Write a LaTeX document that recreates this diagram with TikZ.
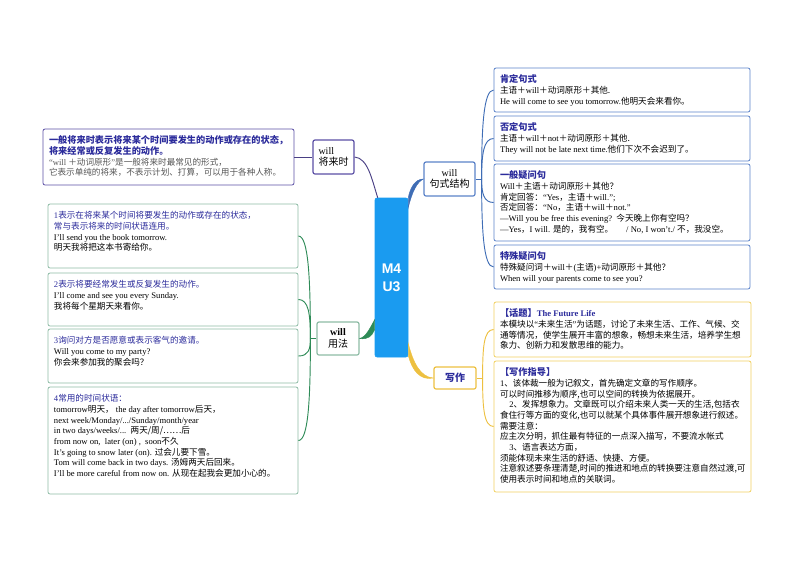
\documentclass[tikz,border=0pt]{standalone}
\usepackage{fontspec}
\usetikzlibrary{calc}
\setmainfont{Liberation Serif}
\newfontfamily\cjk{Noto Sans CJK SC}
\newfontfamily\coresans{Liberation Sans}
\newcommand{\zh}[1]{{\cjk #1}}
\definecolor{corefill}{HTML}{1A9BF0}
\definecolor{purpleline}{HTML}{5B4FA5}
\definecolor{greenline}{HTML}{8DBBA5}
\definecolor{greenlink}{HTML}{2E8B57}
\definecolor{blueline}{HTML}{5B82C8}
\definecolor{bluelink}{HTML}{3F6DB5}
\definecolor{goldline}{HTML}{F0D060}
\definecolor{goldlink}{HTML}{EDC040}
\definecolor{headblue}{HTML}{2B2B9B}
\definecolor{softgray}{HTML}{555555}
\tikzset{
	pane/.style={draw,rounded corners=1.5pt,line width=0.6pt,inner sep=4.5pt,font=\fontsize{6.45}{8}\selectfont},
	fork/.style={draw,rounded corners=1.5pt,line width=0.9pt,inner sep=1pt,align=center,font=\fontsize{7.5}{8.6}\selectfont},
	link/.style={line width=0.7pt}
}
% name, style, x1, y1, x2, y2, text
\newcommand{\pane}[7]{%
	\node[pane,#2] (#1) at ({(#3+#5)/2},{(#4+#6)/2})
	{\parbox[c][\dimexpr(#6pt-#4pt)*3/4-9pt\relax][t]{\dimexpr(#5pt-#3pt)*3/4-9pt\relax}{\rule{0pt}{6.7pt}#7}};}
\newcommand{\head}[1]{\textcolor{headblue}{\bfseries\fontsize{6.9}{8}\selectfont #1}}
\newcommand{\lead}[1]{\textcolor{headblue}{#1}}
\begin{document}
\begin{tikzpicture}[x=0.75pt,y=-0.75pt]
	\useasboundingbox (0,0) rectangle (794,562);
	% centre and branches
	\node[fill=corefill,draw=corefill,rounded corners=1.5pt,text=white,align=center,minimum width=24.75pt,minimum height=119.25pt,inner sep=0pt,font=\coresans\bfseries\fontsize{10.5}{13.5}\selectfont] (core) at (391.5,277.5) {M4\\U3};
	\node[fork,draw=purpleline,align=left,minimum width=30.75pt,minimum height=25.5pt] (tense) at (333.5,157) {will\\\zh{将来时}};
	\node[fork,draw=greenline,minimum width=31.5pt,minimum height=24.75pt] (usage) at (338,338.5) {\textbf{will}\\\zh{用法}};
	\node[fork,draw=blueline,minimum width=38.25pt,minimum height=25.5pt] (struct) at (449.5,179) {will\\\zh{句式结构}};
	\node[fork,draw=goldlink,text=headblue,minimum width=31.5pt,minimum height=16.5pt,font=\bfseries\fontsize{7.5}{8.6}\selectfont] (writing) at (455,378) {\zh{写作}};
	% left panes
	\pane{tenseinfo}{draw=purpleline}{43}{129}{294}{185}{\head{\zh{一般将来时表示将来某个时间要发生的动作或存在的状态，}}\\
		\head{\zh{将来经常或反复发生的动作。}}\\
		\textcolor{softgray}{“will \zh{＋动词原形}”\zh{是一般将来时最常见的形式，}}\\
		\textcolor{softgray}{\zh{它表示单纯的将来，不表示计划、打算，可以用于各种人称。}}}
	\pane{useone}{draw=greenline}{48}{204}{298}{268}{\lead{1\zh{表示在将来某个时间将要发生的动作或存在的状态，}}\\
		\lead{\zh{常与表示将来的时间状语连用。}}\\
		I'll send you the book tomorrow.\\
		\zh{明天我将把这本书寄给你。}}
	\pane{usetwo}{draw=greenline}{48}{273}{298}{326}{\lead{2\zh{表示将要经常发生或反复发生的动作。}}\\
		I'll come and see you every Sunday.\\
		\zh{我将每个星期天来看你。}}
	\pane{usethree}{draw=greenline}{48}{329}{298}{383}{\lead{3\zh{询问对方是否愿意或表示客气的邀请。}}\\
		Will you come to my party?\\
		\zh{你会来参加我的聚会吗？}}
	\pane{usefour}{draw=greenline}{48}{387}{298}{494}{\lead{4\zh{常用的时间状语：}}\\
		tomorrow\zh{明天，} the day after tomorrow\zh{后天，}\\
		next week/Monday/.../Sunday/month/year\\
		in two days/weeks/...\ \ \zh{两天/周/……后}\\
		from now on, \ later (on) , \ soon\zh{不久}\\
		It's going to snow later (on). \zh{过会儿要下雪。}\\
		Tom will come back in two days. \zh{汤姆两天后回来。}\\
		I'll be more careful from now on. \zh{从现在起我会更加小心的。}}
	% right panes
	\pane{structone}{draw=blueline}{494}{68}{750}{112}{\head{\zh{肯定句式}}\\
		\zh{主语＋}will\zh{＋动词原形＋其他.}\\
		He will come to see you tomorrow.\zh{他明天会来看你。}}
	\pane{structtwo}{draw=blueline}{494}{116}{750}{161}{\head{\zh{否定句式}}\\
		\zh{主语＋}will\zh{＋}not\zh{＋动词原形＋其他.}\\
		They will not be late next time.\zh{他们下次不会迟到了。}}
	\pane{structthree}{draw=blueline}{494}{164}{750}{241}{\head{\zh{一般疑问句}}\\
		Will\zh{＋主语＋动词原形＋其他？}\\
		\zh{肯定回答：}“Yes\zh{，主语＋}will.”;\\
		\zh{否定回答：}“No\zh{，主语＋}will\zh{＋}not.”\\
		—Will you be free this evening?\ \ \zh{今天晚上你有空吗？}\\
		—Yes\zh{，}I will. \zh{是的，我有空。}\quad\ \ / No, I won't./ \zh{不，我没空。}}
	\pane{structfour}{draw=blueline}{494}{245}{750}{289}{\head{\zh{特殊疑问句}}\\
		\zh{特殊疑问词＋}will\zh{＋}(\zh{主语})+\zh{动词原形＋其他？}\\
		When will your parents come to see you?}
	\pane{writeone}{draw=goldline}{494}{302}{751}{357}{\head{\zh{【话题】}}\textcolor{headblue}{\bfseries The Future Life}\\
		\zh{本模块以}“\zh{未来生活}”\zh{为话题，讨论了未来生活、工作、气候、交}\\
		\zh{通等情况，使学生展开丰富的想象，畅想未来生活，培养学生想}\\
		\zh{象力、创新力和发散思维的能力。}}
	\pane{writetwo}{draw=goldline}{494}{361}{751}{492}{\head{\zh{【写作指导】}}\\
		1\zh{、该体裁一般为记叙文，首先确定文章的写作顺序。}\\
		\zh{可以时间推移为顺序,也可以空间的转换为依据展开。}\\
		\hspace*{7pt}2\zh{、发挥想象力。文章既可以介绍未来人类一天的生活,包括衣}\\
		\zh{食住行等方面的变化,也可以就某个具体事件展开想象进行叙述。}\\
		\zh{需要注意：}\\
		\zh{应主次分明，抓住最有特征的一点深入描写，不要流水帐式}\\
		\hspace*{7pt}3\zh{、语言表达方面，}\\
		\zh{须能体现未来生活的舒适、快捷、方便。}\\
		\zh{注意叙述要条理清楚,时间的推进和地点的转换要注意自然过渡,可}\\
		\zh{使用表示时间和地点的关联词。}}
	% from the centre to the branches
	\draw[link,purpleline!80!black] (tense.east) .. controls (368,158) and (372,180) .. ($(core.north west)+(3,0)$);
	\filldraw[bluelink,line width=0.3pt] (core.north east) .. controls (410,188) and (415,179) .. (struct.west) .. controls (417,182) and (412,192) .. ($(core.north east)+(0,10)$) -- cycle;
	\filldraw[greenlink,line width=0.3pt] ($(core.west)+(0,42)$) .. controls (370,328) and (366,337) .. (usage.east) .. controls (368,340) and (372,336) .. ($(core.west)+(0,52)$) -- cycle;
	\filldraw[goldlink,line width=0.3pt] ($(core.east)+(0,66)$) .. controls (413,362) and (420,377) .. (writing.west) .. controls (420,381) and (412,370) .. ($(core.east)+(0,78)$) -- cycle;
	% from the branches to the panes
	\draw[link,purpleline!80!black] (tense.west) -- (tenseinfo.east |- tense.west);
	\draw[link,greenlink] (usage.west) -- ++(-6,0) coordinate (usagejoint);
	\foreach \pname/\rise in {useone/-60,usetwo/-25,usethree/11,usefour/60}
		\draw[link,greenlink] (usagejoint) .. controls +(0,\rise) and +(10,0) .. (\pname.east);
	\draw[link,bluelink] (struct.east) -- ++(6,0) coordinate (structjoint);
	\foreach \pname/\rise in {structone/-52,structtwo/-25,structthree/14,structfour/52}
		\draw[link,bluelink] (structjoint) .. controls +(0,\rise) and +(-10,0) .. (\pname.west);
	\draw[link,goldlink] (writing.east) -- ++(6,0) coordinate (writingjoint);
	\foreach \pname/\rise in {writeone/-30,writetwo/28}
		\draw[link,goldlink] (writingjoint) .. controls +(0,\rise) and +(-10,0) .. (\pname.west);
\end{tikzpicture}
\end{document}
